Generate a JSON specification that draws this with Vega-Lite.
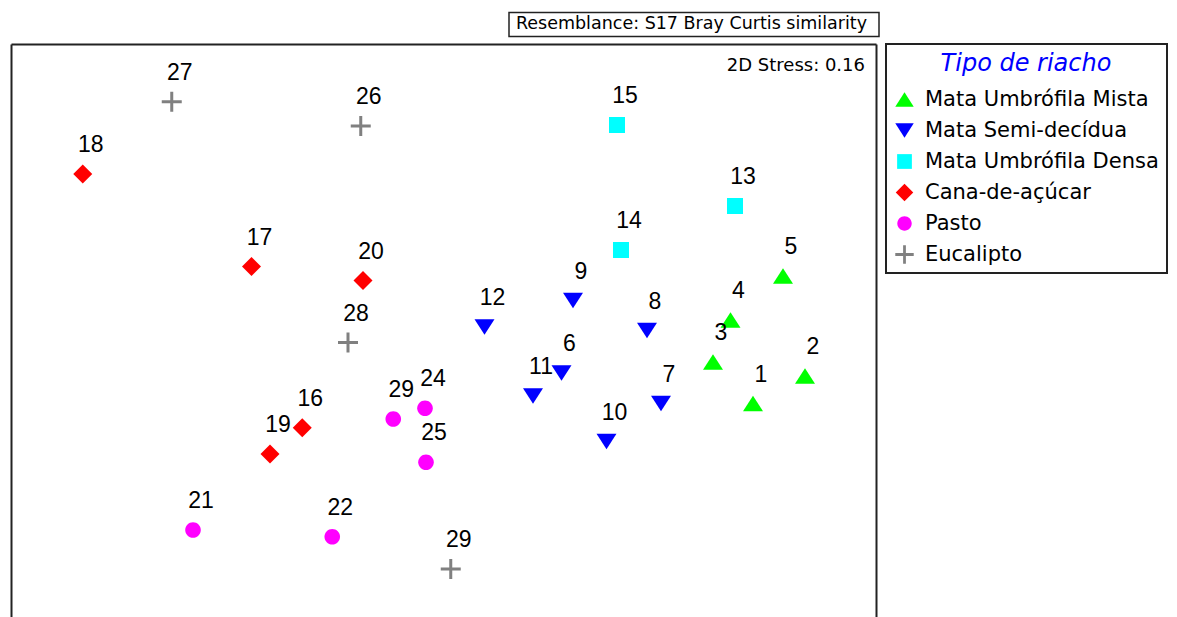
{
  "$schema": "https://vega.github.io/schema/vega-lite/v6.json",
  "width": 865,
  "height": 573,
  "autosize": {"type": "none"},
  "padding": {"left": 11, "top": 44, "right": 301, "bottom": 0},
  "background": "white",
  "config": {
    "view": {"stroke": null},
    "axis": {"domainColor": "#222222", "domainWidth": 2, "ticks": false, "labels": false, "grid": false},
    "legend": {
      "orient": "none",
      "legendX": 875,
      "legendY": 0,
      "padding": 8,
      "strokeColor": "#222222",
      "strokeWidth": 2,
      "fillColor": "white",
      "titleFont": "DejaVu Sans",
      "titleFontSize": 24,
      "titleFontStyle": "italic",
      "titleFontWeight": "normal",
      "titleColor": "#0000ff",
      "titleAnchor": "middle",
      "titlePadding": 13,
      "labelFont": "DejaVu Sans",
      "labelFontSize": 21,
      "labelColor": "black",
      "labelOffset": 10,
      "labelLimit": 400,
      "rowPadding": 9,
      "symbolSize": 340,
      "symbolStrokeWidth": 0,
      "symbolOpacity": 1
    }
  },
  "datasets": {
    "pts": [
      {"id": "1", "tipo": "Mata Umbrófila Mista", "x": 1.238, "y": -0.292},
      {"id": "2", "tipo": "Mata Umbrófila Mista", "x": 1.446, "y": -0.182},
      {"id": "3", "tipo": "Mata Umbrófila Mista", "x": 1.078, "y": -0.126},
      {"id": "4", "tipo": "Mata Umbrófila Mista", "x": 1.148, "y": 0.042},
      {"id": "5", "tipo": "Mata Umbrófila Mista", "x": 1.358, "y": 0.218},
      {"id": "6", "tipo": "Mata Semi-decídua", "x": 0.472, "y": -0.17},
      {"id": "7", "tipo": "Mata Semi-decídua", "x": 0.87, "y": -0.292},
      {"id": "8", "tipo": "Mata Semi-decídua", "x": 0.814, "y": 0.0},
      {"id": "9", "tipo": "Mata Semi-decídua", "x": 0.518, "y": 0.12},
      {"id": "10", "tipo": "Mata Semi-decídua", "x": 0.652, "y": -0.444},
      {"id": "11", "tipo": "Mata Semi-decídua", "x": 0.358, "y": -0.262},
      {"id": "12", "tipo": "Mata Semi-decídua", "x": 0.164, "y": 0.014},
      {"id": "13", "tipo": "Mata Umbrófila Densa", "x": 1.166, "y": 0.498},
      {"id": "14", "tipo": "Mata Umbrófila Densa", "x": 0.71, "y": 0.322},
      {"id": "15", "tipo": "Mata Umbrófila Densa", "x": 0.694, "y": 0.822},
      {"id": "16", "tipo": "Cana-de-açúcar", "x": -0.565, "y": -0.389},
      {"id": "17", "tipo": "Cana-de-açúcar", "x": -0.768, "y": 0.256},
      {"id": "18", "tipo": "Cana-de-açúcar", "x": -1.443, "y": 0.626},
      {"id": "19", "tipo": "Cana-de-açúcar", "x": -0.694, "y": -0.494},
      {"id": "20", "tipo": "Cana-de-açúcar", "x": -0.322, "y": 0.2},
      {"id": "21", "tipo": "Pasto", "x": -1.002, "y": -0.798},
      {"id": "22", "tipo": "Pasto", "x": -0.445, "y": -0.825},
      {"id": "24", "tipo": "Pasto", "x": -0.074, "y": -0.311},
      {"id": "25", "tipo": "Pasto", "x": -0.07, "y": -0.527},
      {"id": "29", "tipo": "Pasto", "x": -0.201, "y": -0.354},
      {"id": "26", "tipo": "Eucalipto", "x": -0.331, "y": 0.818},
      {"id": "27", "tipo": "Eucalipto", "x": -1.087, "y": 0.915},
      {"id": "28", "tipo": "Eucalipto", "x": -0.382, "y": -0.048},
      {"id": "29", "tipo": "Eucalipto", "x": 0.029, "y": -0.954}
    ]
  },
  "data": {"name": "pts"},
  "layer": [
    {
      "data": {"values": [{}]},
      "mark": {"type": "rect", "fill": "white", "stroke": "#222222", "strokeWidth": 1.5},
      "encoding": {
        "x": {"datum": 0.262, "type": "quantitative", "scale": {"domain": [-1.73, 1.73], "nice": false, "zero": false}, "axis": {"orient": "top", "title": null}},
        "x2": {"datum": 1.742},
        "y": {"datum": 1.272, "type": "quantitative", "scale": {"domain": [-1.146, 1.146], "nice": false, "zero": false}, "axis": null},
        "y2": {"datum": 1.176}
      }
    },
    {
      "data": {"values": [{}]},
      "mark": {"type": "text", "text": "Resemblance: S17 Bray Curtis similarity", "font": "DejaVu Sans", "fontSize": 17.5, "align": "center", "baseline": "middle", "color": "black"},
      "encoding": {
        "x": {"datum": 0.992, "type": "quantitative", "axis": {"orient": "top", "title": null}},
        "y": {"datum": 1.226, "type": "quantitative", "axis": null}
      }
    },
    {
      "data": {"values": [{}]},
      "mark": {"type": "text", "text": "2D Stress: 0.16", "font": "DejaVu Sans", "fontSize": 18, "align": "right", "baseline": "middle", "color": "black"},
      "encoding": {
        "x": {"datum": 1.686, "type": "quantitative", "axis": {"orient": "top", "title": null}},
        "y": {"datum": 1.06, "type": "quantitative", "axis": null}
      }
    },
    {
      "mark": {"type": "point", "filled": true, "opacity": 1, "strokeWidth": 0, "size": 400},
      "encoding": {
        "x": {"field": "x", "type": "quantitative", "axis": {"orient": "top", "title": null}},
        "y": {"field": "y", "type": "quantitative", "axis": {"orient": "left", "title": null}},
        "color": {
          "field": "tipo", "type": "nominal",
          "scale": {
            "domain": ["Mata Umbrófila Mista", "Mata Semi-decídua", "Mata Umbrófila Densa", "Cana-de-açúcar", "Pasto", "Eucalipto"],
            "range": ["#00ff00", "#0000ff", "#00ffff", "#ff0000", "#ff00ff", "#808080"]
          },
          "legend": {"title": "Tipo de riacho", "orient": "none", "legendX": 875, "legendY": 0}
        },
        "shape": {
          "field": "tipo", "type": "nominal",
          "scale": {
            "domain": ["Mata Umbrófila Mista", "Mata Semi-decídua", "Mata Umbrófila Densa", "Cana-de-açúcar", "Pasto", "Eucalipto"],
            "range": [
              "M0,-0.78L1,0.78L-1,0.78Z",
              "M-1,-0.78L1,-0.78L0,0.78Z",
              "M-0.8,-0.8H0.8V0.8H-0.8Z",
              "M0,-0.95L0.95,0L0,0.95L-0.95,0Z",
              "M0.78,0A0.78,0.78,0,1,1,-0.78,0A0.78,0.78,0,1,1,0.78,0Z",
              "M-1,-0.15H-0.15V-1H0.15V-0.15H1V0.15H0.15V1H-0.15V0.15H-1Z"
            ]
          },
          "legend": {"title": "Tipo de riacho"}
        }
      }
    },
    {
      "mark": {"type": "text", "font": "Liberation Sans", "fontSize": 23, "align": "center", "baseline": "middle", "dx": 8, "dy": -29, "color": "black"},
      "encoding": {
        "x": {"field": "x", "type": "quantitative", "axis": {"orient": "top", "title": null}},
        "y": {"field": "y", "type": "quantitative", "axis": {"orient": "right", "title": null}},
        "text": {"field": "id"}
      }
    }
  ],
  "resolve": {"axis": {"y": "independent"}}
}
